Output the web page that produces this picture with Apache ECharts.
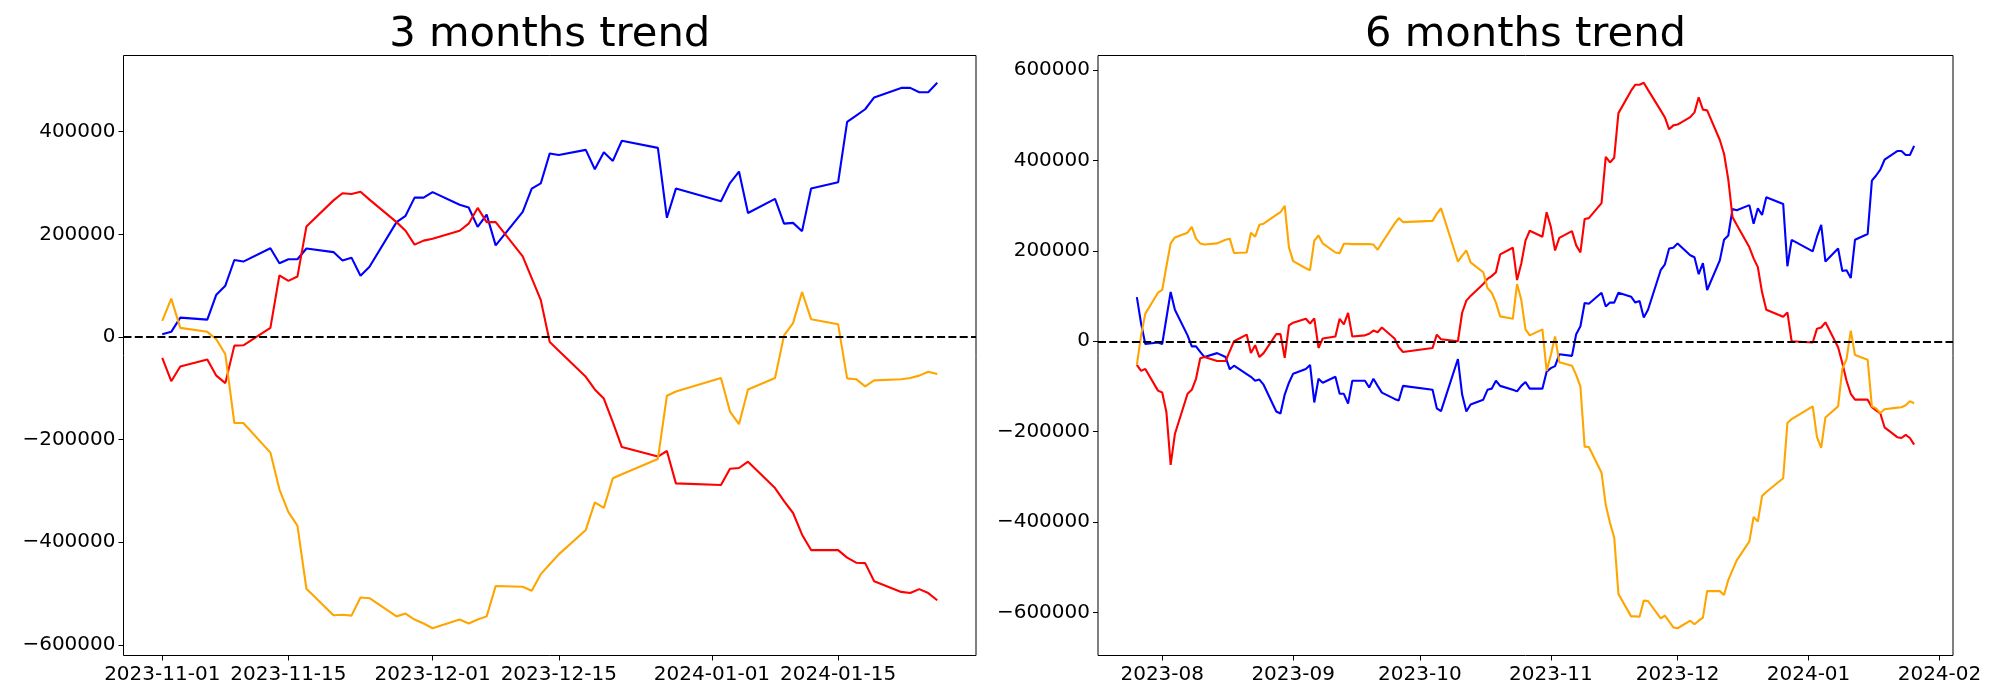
<!DOCTYPE html>
<html><head><meta charset="utf-8">
<script src="https://cdn.jsdelivr.net/npm/echarts@6/dist/echarts.min.js"></script>
<style>html,body{margin:0;padding:0;background:#fff}#c{width:2000px;height:700px}</style>
</head><body><div id="c"></div>
<script>
// ---------- 3 months data ----------
const dates3 = ['2023-11-01','2023-11-02','2023-11-03','2023-11-06','2023-11-07','2023-11-08','2023-11-09','2023-11-10','2023-11-13','2023-11-14','2023-11-15','2023-11-16','2023-11-17','2023-11-20','2023-11-21','2023-11-22','2023-11-23','2023-11-24','2023-11-27','2023-11-28','2023-11-29','2023-11-30',
'2023-12-01','2023-12-04','2023-12-05','2023-12-06','2023-12-07','2023-12-08','2023-12-11','2023-12-12','2023-12-13','2023-12-14','2023-12-15','2023-12-18','2023-12-19','2023-12-20','2023-12-21','2023-12-22','2023-12-26','2023-12-27','2023-12-28',
'2024-01-02','2024-01-03','2024-01-04','2024-01-05','2024-01-08','2024-01-09','2024-01-10','2024-01-11','2024-01-12','2024-01-15','2024-01-16','2024-01-17','2024-01-18','2024-01-19','2024-01-22','2024-01-23','2024-01-24','2024-01-25','2024-01-26'];
const blue3 = [5400,10000,37700,33800,82300,100000,150000,146900,173000,143800,151500,151500,172300,165400,149200,154600,119200,136900,223800,236100,271500,271500,
282300,257700,252300,214600,238500,178500,243800,289200,299200,357700,354600,364600,326900,360000,343100,382300,368500,232300,289200,
264600,300000,322300,241500,269200,220800,222300,206200,289200,301500,419200,431500,443800,466900,485400,485400,476900,476900,495400];
const red3 = [-40800,-86200,-57700,-43800,-75400,-90000,-16900,-16200,17700,120000,109200,117700,215400,266200,280000,278500,283100,267700,223800,206900,180000,187700,
191500,206900,220800,251500,223800,223800,156900,114600,72300,-10000,-26900,-77700,-102300,-120000,-166200,-214600,-233100,-222300,-285400,
-288500,-256900,-255400,-243100,-294600,-320000,-343100,-385400,-415400,-415400,-430000,-440000,-440800,-476200,-496900,-499200,-491500,-499200,-513100];
const orange3 = [31500,74600,17700,10000,-4600,-33800,-167700,-167700,-225400,-296900,-341500,-367700,-490800,-542300,-541500,-543100,-507700,-509200,-544600,-539200,-550800,-558500,
-567700,-550800,-558500,-550800,-544600,-485400,-486900,-494600,-462300,-443100,-423800,-376100,-322300,-333100,-275400,-267700,-237700,-114600,-106200,
-80000,-145400,-170000,-102300,-80000,3100,26900,87700,34600,24600,-80800,-82300,-96200,-84600,-82300,-80000,-75400,-67700,-72300];

// ---------- 6 months data ----------
const dates6 = ['2023-07-26','2023-07-27','2023-07-28','2023-07-31',
'2023-08-01','2023-08-02','2023-08-03','2023-08-04','2023-08-07','2023-08-08','2023-08-09','2023-08-10','2023-08-11','2023-08-14','2023-08-16','2023-08-17','2023-08-18','2023-08-21','2023-08-22','2023-08-23','2023-08-24','2023-08-25','2023-08-28','2023-08-29','2023-08-30','2023-08-31',
'2023-09-01','2023-09-04','2023-09-05','2023-09-06','2023-09-07','2023-09-08','2023-09-11','2023-09-12','2023-09-13','2023-09-14','2023-09-15','2023-09-18','2023-09-19','2023-09-20','2023-09-21','2023-09-22','2023-09-25','2023-09-26','2023-09-27',
'2023-10-04','2023-10-05','2023-10-06','2023-10-10','2023-10-11','2023-10-12','2023-10-13','2023-10-16','2023-10-17','2023-10-18','2023-10-19','2023-10-20','2023-10-23','2023-10-24','2023-10-25','2023-10-26','2023-10-27','2023-10-30','2023-10-31',
'2023-11-01','2023-11-02','2023-11-03','2023-11-06','2023-11-07','2023-11-08','2023-11-09','2023-11-10','2023-11-13','2023-11-14','2023-11-15','2023-11-16','2023-11-17','2023-11-20','2023-11-21','2023-11-22','2023-11-23','2023-11-24','2023-11-27','2023-11-28','2023-11-29','2023-11-30',
'2023-12-01','2023-12-04','2023-12-05','2023-12-06','2023-12-07','2023-12-08','2023-12-11','2023-12-12','2023-12-13','2023-12-14','2023-12-15','2023-12-18','2023-12-19','2023-12-20','2023-12-21','2023-12-22','2023-12-26','2023-12-27','2023-12-28',
'2024-01-02','2024-01-03','2024-01-04','2024-01-05','2024-01-08','2024-01-09','2024-01-10','2024-01-11','2024-01-12','2024-01-15','2024-01-16','2024-01-17','2024-01-18','2024-01-19','2024-01-22','2024-01-23','2024-01-24','2024-01-25','2024-01-26'];
const blue6 = [97700,39300,-6100,-2600,
-6100,51500,109100,69800,13100,-11300,-11300,-23600,-34900,-26200,-34900,-62000,-54100,-72400,-78500,-87300,-84600,-96000,-155300,-159700,-117800,-91600,
-71600,-61100,-52400,-135300,-82900,-91600,-78500,-116100,-116100,-137900,-87300,-87300,-102100,-82900,-98600,-113400,-127400,-130900,-98600,
-107300,-148300,-154500,-39300,-117800,-155300,-139600,-129100,-107300,-104700,-87300,-98600,-107300,-110800,-98600,-89900,-104700,-104700,-67200,
-59300,-55000,-28800,-32300,15700,33200,84600,82900,107300,76800,85500,85500,107300,98600,85500,89000,52400,69800,157100,170200,205100,206800,
216400,190200,185900,148300,172800,113400,178900,224300,233900,292300,289700,301000,260000,294100,279200,318500,303700,165800,224300,
198900,231200,257400,176300,205100,155300,157100,139600,224300,237300,355100,366500,379600,401400,420600,420600,411900,411900,431900];
const red6 = [-52400,-65400,-61100,-109100,
-113400,-157100,-273100,-205100,-116100,-107300,-82900,-37500,-34900,-43600,-43600,-21800,0,14800,-26200,-8700,-34900,-26200,15700,15700,-36600,34900,
41000,49700,39300,50600,-14800,6100,10500,49700,37500,62800,10500,13100,16600,23600,20100,30500,6100,-13100,-23600,
-14800,14800,4400,0,63000,89900,100300,126500,137900,144000,152700,192000,206800,135300,171900,222500,244300,231200,285300,
253000,200700,228600,243500,212000,196300,270500,272300,305400,407500,395300,405800,504400,554100,567200,567200,571500,555800,510500,494800,468600,477300,
479100,495600,506100,539300,512200,510500,445000,414500,357800,274900,257400,207700,183200,164000,108200,69800,54100,63700,0,
-2600,27900,30500,41900,-13100,-48000,-87300,-116100,-129100,-129100,-145700,-152700,-159700,-190200,-212000,-213800,-206800,-213800,-228600];
const orange6 = [-52400,13100,61100,107300,
113400,165800,216400,229500,240000,253100,226900,216400,213800,216400,224300,226900,195000,196300,240000,231200,257400,260000,279200,285300,299300,207700,
177100,161400,157100,222500,233900,216400,196300,194600,215500,215500,214700,214700,214700,213800,202400,217300,260000,272300,263500,
266100,281800,294100,176300,189400,200700,174500,152700,117800,107300,85500,55000,49700,126500,91600,26200,13100,26200,-65400,
-30500,10500,-46200,-54100,-74200,-100300,-233000,-233900,-290600,-362100,-401400,-433700,-558500,-608200,-608200,-609100,-573300,-574200,-612600,-606500,-619500,-632600,
-634400,-617800,-625700,-617800,-611000,-552000,-552400,-561100,-527900,-506100,-484300,-442400,-388300,-398800,-342100,-333300,-302800,-180600,-171900,
-144000,-212000,-235600,-168400,-144000,-61100,-39300,23600,-30500,-41000,-144000,-148300,-158800,-150100,-146600,-145700,-141400,-132600,-137000];

// ---------- ticks & titles ----------
const xTicks3 = ['2023-11-01','2023-11-15','2023-12-01','2023-12-15','2024-01-01','2024-01-15'];
const xTicks6 = ['2023-08-01','2023-09-01','2023-10-01','2023-11-01','2023-12-01','2024-01-01','2024-02-01'];
const yTicks3 = [-600000,-400000,-200000,0,200000,400000];
const yTicks6 = [-600000,-400000,-200000,0,200000,400000,600000];
const titles = ['3 months trend','6 months trend'];
const colors = {blue:'#0000ff', red:'#ff0000', orange:'#ffa500'};

function ts(s){const p=s.split('-').map(Number);return new Date(p[0],p[1]-1,p[2]).getTime();}
function pad2(n){return (n<10?'0':'')+n;}
function fmtDay(v){const d=new Date(v);return d.getFullYear()+'-'+pad2(d.getMonth()+1)+'-'+pad2(d.getDate());}
function fmtMonth(v){const d=new Date(v);return d.getFullYear()+'-'+pad2(d.getMonth()+1);}
function fmtY(v){return v<0?'\u2212'+Math.abs(v):String(v);}
function yRange(arrs){let mn=Infinity,mx=-Infinity;arrs.forEach(a=>a.forEach(v=>{if(v<mn)mn=v;if(v>mx)mx=v;}));const p=(mx-mn)*0.05;return [mn-p,mx+p];}
function xRange(d){const a=ts(d[0]),b=ts(d[d.length-1]);const p=(b-a)*0.05;return [a-p,b+p];}

const FONT='DejaVu Sans';
const grids=[
  {left:123.5, top:55.5, width:852.5, height:600},
  {left:1098, top:55.5, width:855, height:600}
];
const sets=[
  {dates:dates3, s:[blue3,red3,orange3], xt:xTicks3, yt:yTicks3, fx:fmtDay},
  {dates:dates6, s:[blue6,red6,orange6], xt:xTicks6, yt:yTicks6, fx:fmtMonth}
];
const xAxis=[],yAxis=[],series=[],title=[];
sets.forEach((st,i)=>{
  const g=grids[i];
  const xr=xRange(st.dates), yr=yRange(st.s);
  const xt=st.xt.map(ts);
  xAxis.push({type:'value',gridIndex:i,min:xr[0],max:xr[1],scale:true,position:'bottom',
    axisLine:{show:false,onZero:false},splitLine:{show:false},
    axisTick:{show:true,inside:false,length:5,lineStyle:{color:'#000',width:1},customValues:xt},
    axisLabel:{show:true,customValues:xt,formatter:(v)=>st.fx(v),margin:9,fontFamily:FONT,fontSize:20,color:'#000',hideOverlap:false,showMinLabel:true,showMaxLabel:true}});
  yAxis.push({type:'value',gridIndex:i,min:yr[0],max:yr[1],scale:true,position:'left',
    axisLine:{show:false,onZero:false},splitLine:{show:false},
    axisTick:{show:true,inside:false,length:5,lineStyle:{color:'#000',width:1},customValues:st.yt},
    axisLabel:{show:true,customValues:st.yt,formatter:(v)=>fmtY(v),margin:8,fontFamily:FONT,fontSize:20,color:'#000'}});
  const names=['blue','red','orange'];
  st.s.forEach((arr,k)=>{
    series.push({type:'line',xAxisIndex:i,yAxisIndex:i,showSymbol:false,symbol:'none',
      data:st.dates.map((d,j)=>[ts(d),arr[j]]),
      lineStyle:{color:colors[names[k]],width:2.1},itemStyle:{color:colors[names[k]]},
      animation:false,z:2+k});
  });
  series.push({type:'line',xAxisIndex:i,yAxisIndex:i,data:[],z:10,
    markLine:{silent:true,symbol:['none','none'],label:{show:false},animation:false,
      lineStyle:{color:'#000',type:[8,3.3],width:2},data:[{yAxis:0}]}});
  title.push({text:titles[i],left:g.left+g.width/2,top:14,textAlign:'center',padding:0,
    textStyle:{fontFamily:FONT,fontSize:41.7,fontWeight:'normal',color:'#000'}});
});
const option={
  animation:false,backgroundColor:'#fff',
  title:title,
  grid:grids.map(g=>Object.assign({show:true,borderColor:'#000',borderWidth:1,backgroundColor:'transparent',containLabel:false,outerBoundsMode:'none'},g)),
  xAxis:xAxis,yAxis:yAxis,series:series
};
const chart=echarts.init(document.getElementById('c'),null,{renderer:'canvas'});
chart.setOption(option);
</script></body></html>
